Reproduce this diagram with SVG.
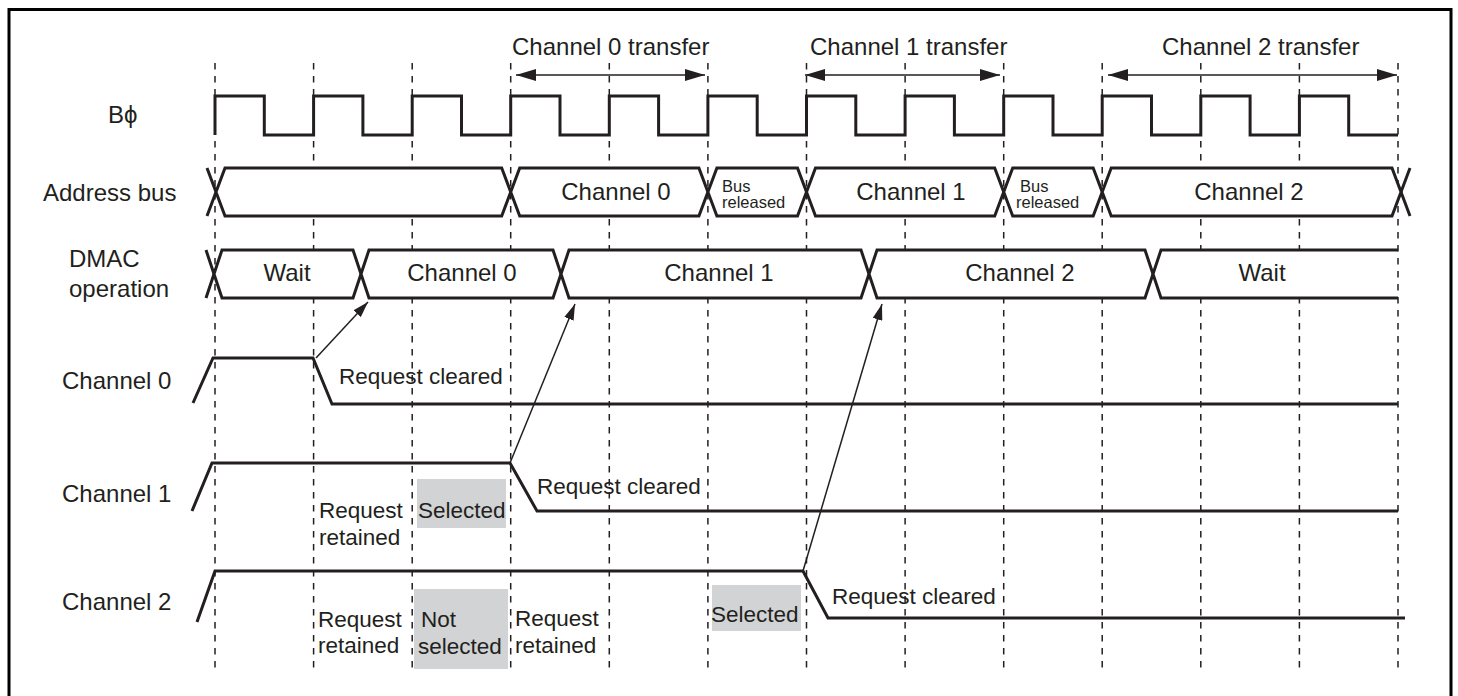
<svg xmlns="http://www.w3.org/2000/svg" width="1458" height="696" viewBox="0 0 1458 696">
<defs>
<style>
text{font-family:"Liberation Sans",Arial,Helvetica,sans-serif;fill:#231f20}
.lbl{font-size:24px}
.ann{font-size:22.5px}
.sm{font-size:16.5px}
.mid{text-anchor:middle}
.grid{stroke:#231f20;stroke-width:1.5;stroke-dasharray:6.5 6.5;fill:none}
.sig{stroke:#231f20;stroke-width:3;fill:none;stroke-linejoin:miter}
.hex{stroke:#231f20;stroke-width:3;fill:#fff;stroke-linejoin:miter}
.gray{fill:#d1d3d4}
.arr{stroke:#231f20;stroke-width:1.5;fill:none}
</style>
<marker id="ah" viewBox="0 0 16 10" refX="16" refY="5" markerWidth="16" markerHeight="10" markerUnits="userSpaceOnUse" orient="auto-start-reverse">
<path d="M0,0 L16,5 L0,10 z" fill="#231f20"/>
</marker>
<marker id="th" viewBox="0 0 20 12" refX="20" refY="6" markerWidth="20" markerHeight="12" markerUnits="userSpaceOnUse" orient="auto-start-reverse">
<path d="M0,0 L20,6 L0,12 z" fill="#231f20"/>
</marker>
</defs>
<rect x="0" y="0" width="1458" height="696" fill="#fff"/>
<rect x="9" y="9.5" width="1442" height="700" fill="none" stroke="#000" stroke-width="3"/>

<g id="grid" class="grid">
<path d="M215,63V672M313.6,63V672M412.2,63V672M510.7,63V672M609.3,63V672M707.9,63V672M806.5,63V672M905.1,63V672M1003.7,63V672M1102.2,63V672M1200.8,63V672M1299.4,63V672M1398,63V672"/>
</g>

<g id="transfers">
<text class="lbl" x="512" y="55">Channel 0 transfer</text>
<text class="lbl" x="810" y="55">Channel 1 transfer</text>
<text class="lbl" x="1162" y="55">Channel 2 transfer</text>
</g>

<g id="clock">
<text class="lbl" x="108" y="123">Bϕ</text>
<path class="sig" d="M215,135V96H264.3V135H313.6V96H362.9V135H412.2V96H461.5V135H510.7V96H560V135H609.3V96H658.6V135H707.9V96H757.2V135H806.5V96H855.8V135H905.1V96H954.4V135H1003.7V96H1053V135H1102.2V96H1151.5V135H1200.8V96H1250.1V135H1299.4V96H1348.7V135H1398"/>
</g>

<g id="address-bus">
<text class="lbl" x="43" y="201">Address bus</text>
<path class="sig" d="M216,192L207,168M216,192L207,216M1401,192L1410,168M1401,192L1410,216"/>
<polygon class="hex" points="216,192 225,168 501.7,168 510.7,192 501.7,216 225,216"/>
<polygon class="hex" points="510.7,192 519.7,168 698.9,168 707.9,192 698.9,216 519.7,216"/>
<polygon class="hex" points="707.9,192 716.9,168 797.5,168 806.5,192 797.5,216 716.9,216"/>
<polygon class="hex" points="806.5,192 815.5,168 994.7,168 1003.7,192 994.7,216 815.5,216"/>
<polygon class="hex" points="1003.7,192 1012.7,168 1093.2,168 1102.2,192 1093.2,216 1012.7,216"/>
<polygon class="hex" points="1102.2,192 1111.2,168 1392,168 1401,192 1392,216 1111.2,216"/>
<text class="lbl mid" x="616" y="200">Channel 0</text>
<text class="sm" x="722" y="192">Bus</text>
<text class="sm" x="722" y="208">released</text>
<text class="lbl mid" x="911" y="200">Channel 1</text>
<text class="sm" x="1020" y="192">Bus</text>
<text class="sm" x="1016" y="208">released</text>
<text class="lbl mid" x="1249" y="200">Channel 2</text>
</g>

<g id="dmac">
<text class="lbl" x="69" y="267">DMAC</text>
<text class="lbl" x="69" y="297">operation</text>
<path class="sig" d="M214,274L206,250M214,274L206,298"/>
<polygon class="hex" points="214,274 222,250 353,250 361,274 353,298 222,298"/>
<polygon class="hex" points="361,274 369,250 553,250 561,274 553,298 369,298"/>
<polygon class="hex" points="561,274 569,250 861,250 869,274 861,298 569,298"/>
<polygon class="hex" points="869,274 877,250 1145,250 1153,274 1145,298 877,298"/>
<polygon points="1153,274 1161,250 1396,250 1396,298 1161,298" fill="#fff"/>
<path class="sig" d="M1398,250H1161L1153,274L1161,298H1398"/>
<text class="lbl mid" x="287" y="281">Wait</text>
<text class="lbl mid" x="462" y="281">Channel 0</text>
<text class="lbl mid" x="719" y="281">Channel 1</text>
<text class="lbl mid" x="1020" y="281">Channel 2</text>
<text class="lbl mid" x="1262" y="281">Wait</text>
</g>

<g id="channel0">
<text class="lbl" x="62" y="389">Channel 0</text>
<path class="sig" d="M193,403L213,358H313L332,404H1398"/>
<text class="ann" x="339" y="384">Request cleared</text>
</g>

<g id="channel1">
<text class="lbl" x="62" y="502">Channel 1</text>
<rect class="gray" x="417" y="479" width="89" height="49"/>
<path class="sig" d="M192,511L212,463H510L537,511H1398"/>
<text class="ann" x="537" y="494">Request cleared</text>
<text class="ann" x="319" y="518">Request</text>
<text class="ann" x="319" y="545">retained</text>
<text class="ann" x="418" y="518">Selected</text>
</g>

<g id="channel2">
<text class="lbl" x="62" y="610">Channel 2</text>
<rect class="gray" x="414" y="589" width="94" height="80"/>
<rect class="gray" x="712" y="585" width="89" height="46"/>
<path class="sig" d="M197,622L215,571H803L828,618H1405"/>
<text class="ann" x="832" y="604">Request cleared</text>
<text class="ann" x="318" y="627">Request</text>
<text class="ann" x="318" y="653">retained</text>
<text class="ann" x="421" y="627">Not</text>
<text class="ann" x="418" y="654">selected</text>
<text class="ann" x="515" y="626">Request</text>
<text class="ann" x="515" y="653">retained</text>
<text class="ann" x="711" y="622">Selected</text>
</g>

<g id="connectors">
<path class="arr" d="M516,75H705" marker-start="url(#th)" marker-end="url(#th)"/>
<path class="arr" d="M805,75H1000" marker-start="url(#th)" marker-end="url(#th)"/>
<path class="arr" d="M1108,75H1397" marker-start="url(#th)" marker-end="url(#th)"/>
<path class="arr" d="M316,358L368,302" marker-end="url(#ah)"/>
<path class="arr" d="M510,463L575,304" marker-end="url(#ah)"/>
<path class="arr" d="M803,571L882,304" marker-end="url(#ah)"/>
</g>
</svg>
